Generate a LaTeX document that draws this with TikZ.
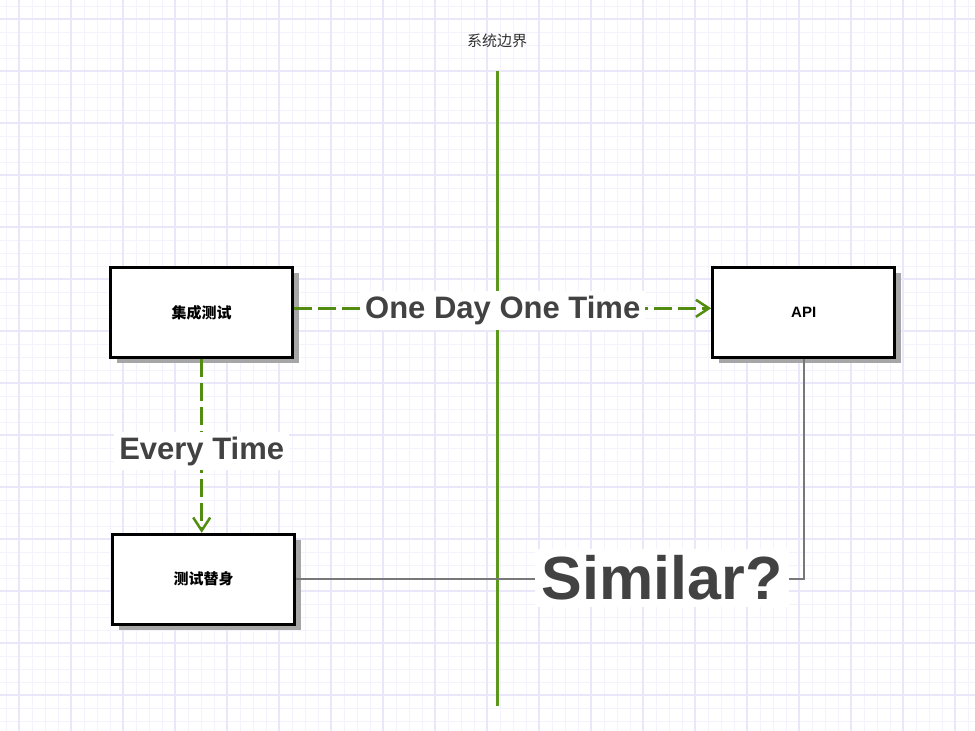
\documentclass[tikz,border=0pt]{standalone}
\usepackage{fontspec}
\setmainfont{Liberation Sans}
\newfontfamily\cjk{Noto Sans CJK SC}
\usetikzlibrary{arrows.meta,shadows}
\definecolor{gridminor}{RGB}{244,243,253}
\definecolor{gridmajor}{RGB}{234,231,251}
\definecolor{bndgreen}{RGB}{92,152,28}
\definecolor{arrgreen}{RGB}{82,140,16}
\definecolor{labelgray}{RGB}{66,66,66}
\definecolor{linegray}{RGB}{120,120,120}
\tikzset{
  boxnode/.style={draw=black, line width=3pt, fill=white, minimum width=182pt, minimum height=90pt,
    inner sep=0pt, font=\fontsize{15}{18}\selectfont\bfseries,
    drop shadow={shadow xshift=6pt, shadow yshift=-6pt, fill=black!35, opacity=1}},
  greenflow/.style={draw=arrgreen, line width=3pt, dash pattern=on 18pt off 6pt,
    -{Straight Barb[length=13pt,width=17pt,line width=2.5pt]}},
  biglabel/.style={fill=white, text=labelgray, font=\fontsize{31}{36}\selectfont\bfseries, inner sep=5pt},
  hugelabel/.style={fill=white, text=labelgray, font=\fontsize{61}{70}\selectfont\bfseries, inner sep=7pt}
}
\begin{document}
\begin{tikzpicture}[x=1pt,y=-1pt]
\useasboundingbox (0,0) rectangle (975,731);
\fill[white] (0,0) rectangle (975,731);
% grid
\foreach \g in {6,19,...,975} {\draw[gridminor, line width=1pt] (\g,0) -- (\g,731);}
\foreach \g in {6,19,...,731} {\draw[gridminor, line width=1pt] (0,\g) -- (975,\g);}
\foreach \g in {19,71,...,975} {\draw[gridmajor, line width=1.2pt] (\g,0) -- (\g,731);}
\foreach \g in {19,71,...,731} {\draw[gridmajor, line width=1.2pt] (0,\g) -- (975,\g);}
% system boundary
\node (title) at (497,41) {\fontsize{15}{18}\selectfont\cjk\color{black!80}系统边界};
\coordinate (btop) at (497,71);
\coordinate (bbot) at (497,706);
\draw[bndgreen, line width=3pt] (btop) -- (bbot);
% boxes
\node[boxnode] (it) at (201.7,312.3) {\cjk 集成测试};
\node[boxnode] (api) at (803.7,312.3) {API};
\node[boxnode] (td) at (203.7,579.3) {\cjk 测试替身};
% connectors
\draw[greenflow] ([yshift=4pt]it.east) -- node[biglabel, yshift=-2pt] {One Day One Time} ([yshift=4pt]api.west);
\draw[greenflow] (it.south) -- node[biglabel, pos=0.53] {Every Time} (it.south |- td.north);
\draw[linegray, line width=2pt] (td.east) -| (api.south);
\node[hugelabel] (sim) at (662,578) {Similar?};
\end{tikzpicture}
\end{document}
